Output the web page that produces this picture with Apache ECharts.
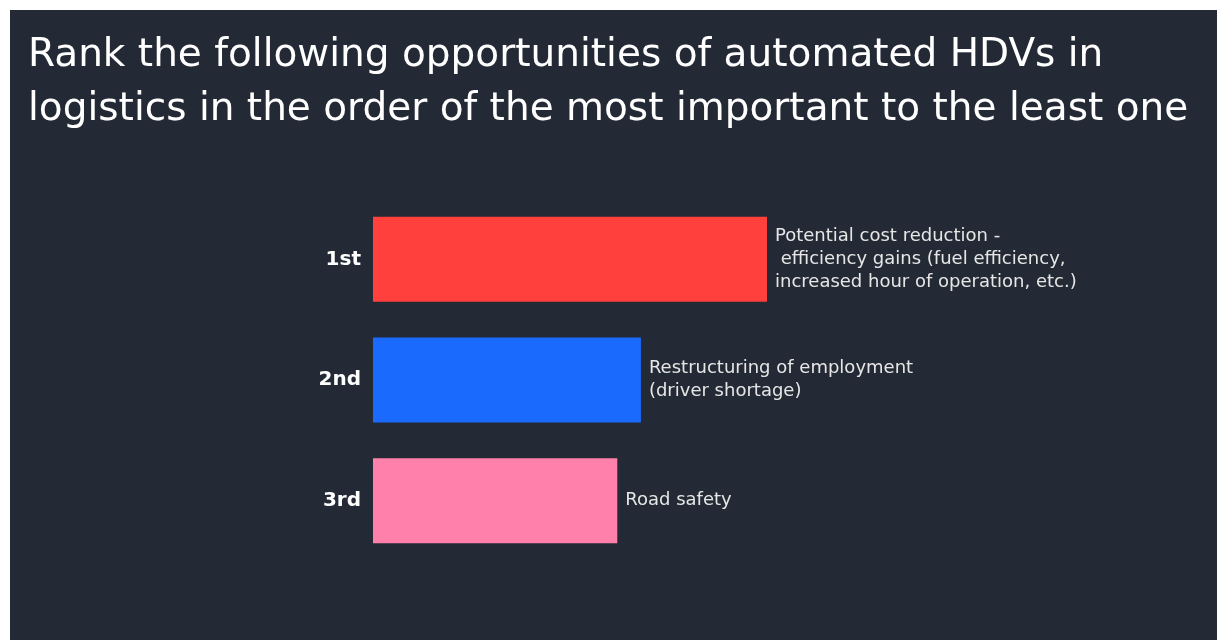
<!DOCTYPE html>
<html>
<head>
<meta charset="utf-8">
<script src="https://cdn.jsdelivr.net/npm/echarts@6/dist/echarts.min.js"></script>
<style>
  html, body { margin: 0; padding: 0; background: #ffffff; width: 1217px; height: 640px; overflow: hidden; }
  #chart { position: absolute; left: 10px; top: 10px; width: 1207px; height: 630px; }
</style>
</head>
<body>
<div id="chart"></div>
<script>
// Ranking question: positions and their weighted scores
const ranks = ['1st', '2nd', '3rd'];
const options = [
  'Potential cost reduction -\n efficiency gains (fuel efficiency,\nincreased hour of operation, etc.)',
  'Restructuring of employment\n(driver shortage)',
  'Road safety'
];
const scores = [100, 68, 62];
const barColors = ['#ff403c', '#1a6afe', '#ff80aa'];

const titleText = 'Rank the following opportunities of automated HDVs in\nlogistics in the order of the most important to the least one';

const chart = echarts.init(document.getElementById('chart'), null, { renderer: 'canvas' });

chart.setOption({
  backgroundColor: '#242a35',
  animation: false,
  title: {
    text: titleText,
    left: 13,
    top: 14,
    textStyle: {
      color: '#ffffff',
      fontFamily: 'DejaVu Sans',
      fontWeight: 'normal',
      fontSize: 39,
      lineHeight: 54
    }
  },
  grid: { left: 363, top: 189, width: 394, height: 362, containLabel: false },
  xAxis: {
    type: 'value',
    min: 0,
    max: 100,
    show: false
  },
  yAxis: {
    type: 'category',
    data: ranks,
    inverse: true,
    axisLine: { show: false },
    axisTick: { show: false },
    splitLine: { show: false },
    axisLabel: {
      color: '#ffffff',
      fontFamily: 'DejaVu Sans',
      fontWeight: 'bold',
      fontSize: 20,
      margin: 12
    }
  },
  series: [{
    type: 'bar',
    barWidth: 85,
    data: scores.map((v, i) => ({
      value: v,
      itemStyle: { color: barColors[i] },
      label: { formatter: options[i] }
    })),
    label: {
      show: true,
      position: 'right',
      distance: 8,
      color: '#e6e6e6',
      fontFamily: 'DejaVu Sans',
      fontSize: 18,
      lineHeight: 23,
      align: 'left',
      verticalAlign: 'middle'
    }
  }]
});
</script>
</body>
</html>
